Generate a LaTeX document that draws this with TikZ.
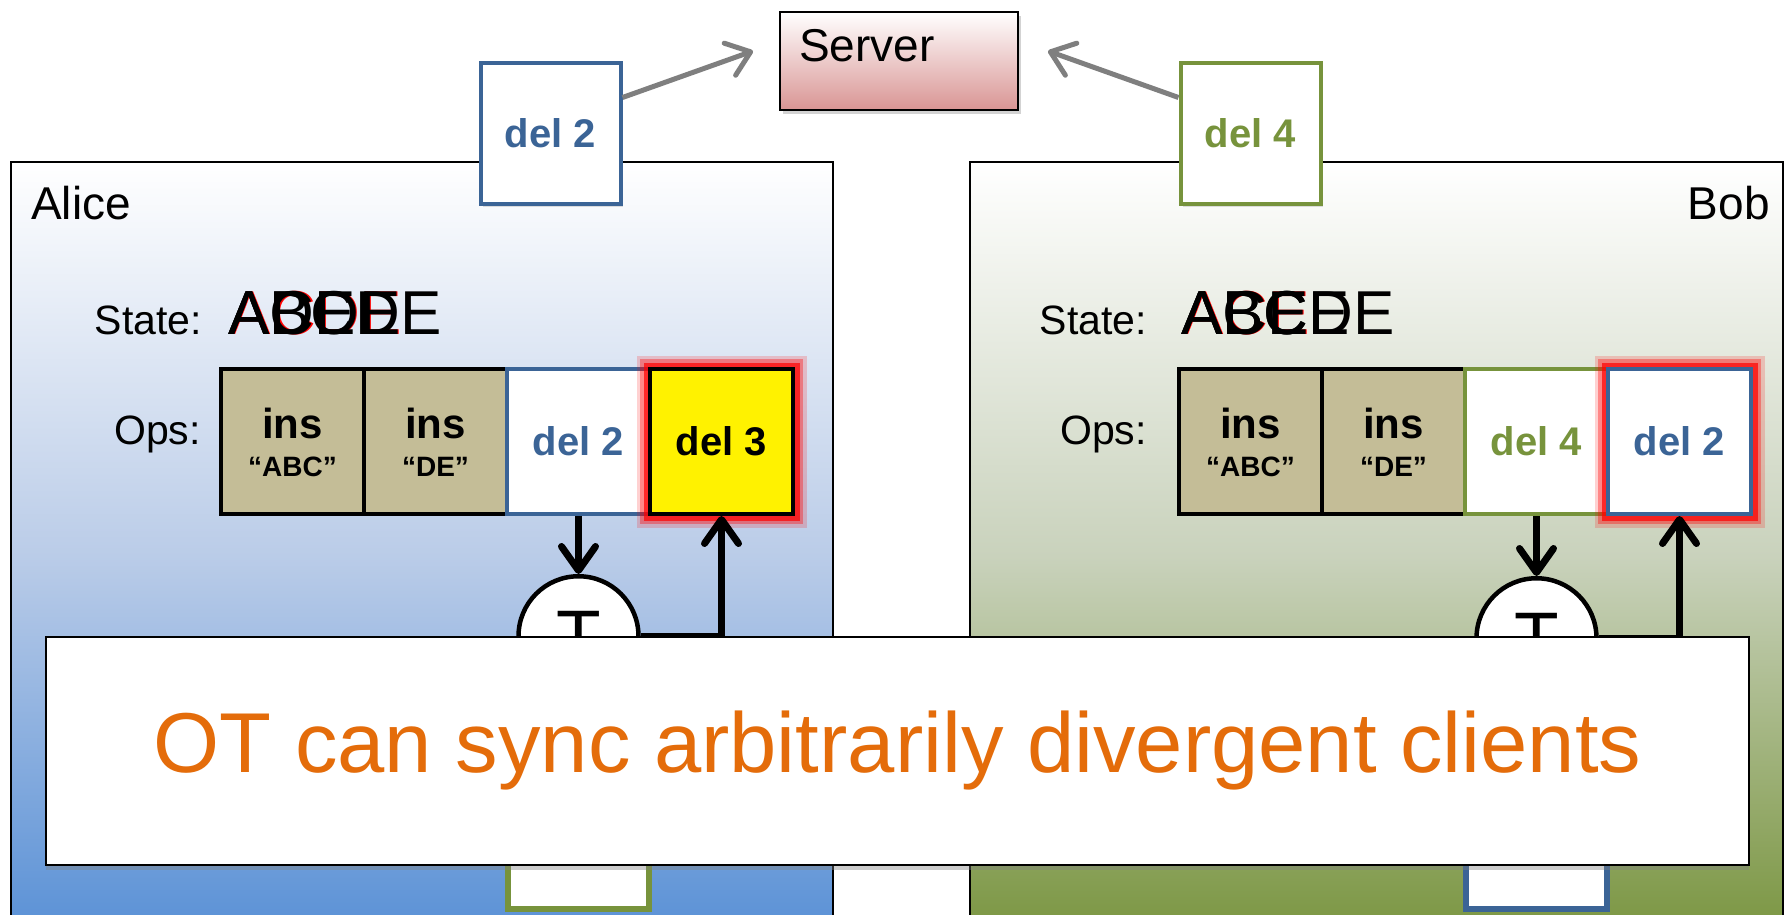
\documentclass[tikz,border=0pt]{standalone}
\usepackage{fontspec}
\setmainfont{Liberation Sans}
\setsansfont{Liberation Sans}
\usepackage{tikz}
\usetikzlibrary{arrows.meta, positioning, shadows}
\usepackage{xcolor}

\definecolor{delblue}{HTML}{3B6496}
\definecolor{delgreen}{HTML}{77933C}
\definecolor{instan}{HTML}{C4BD97}
\definecolor{alicebot}{HTML}{558ED5}
\definecolor{alicemid}{HTML}{BACCE8}
\definecolor{bobbot}{HTML}{77933C}
\definecolor{bobmid}{HTML}{C9D2BC}
\definecolor{servpink}{HTML}{D99594}
\definecolor{titleorange}{HTML}{E46C0A}
\definecolor{sendgray}{HTML}{7F7F7F}

\newcommand{\insop}[1]{\fontsize{42}{44}\selectfont\begin{tabular}{@{}c@{}}\rule{0pt}{46pt}ins\\[-6pt]\fontsize{28}{30}\selectfont “#1”\end{tabular}}

\begin{document}
\begin{tikzpicture}[x=1pt, y=-1pt,
panel/.style={draw=black, line width=2pt},
who/.style={font=\fontsize{46}{50}\selectfont, inner sep=0pt},
lbl/.style={font=\fontsize{41}{46}\selectfont, inner sep=0pt},
statetxt/.style={font=\fontsize{62}{70}\selectfont, inner sep=0pt, anchor=base west},
sendbox/.style={draw, line width=4pt, fill=white, minimum width=140pt, minimum height=140pt,
    font=\bfseries\fontsize{40}{44}\selectfont,
    drop shadow={opacity=.25, shadow xshift=2pt, shadow yshift=-3pt}},
serverbox/.style={draw, line width=2pt, top color=white, bottom color=servpink,
    minimum width=238pt, minimum height=98pt,
    drop shadow={opacity=.35, shadow xshift=3pt, shadow yshift=-4pt}},
sendarrow/.style={draw=sendgray, line width=5pt, -{Straight Barb[round, length=22pt, width=34pt]}},
opbox/.style={draw, line width=4pt, minimum width=143pt, minimum height=145pt, inner sep=0pt,
    fill=white, font=\bfseries\fontsize{40}{44}\selectfont},
insbox/.style={opbox, fill=instan},
glow/.style={
    preaction={draw=red, line width=27pt, opacity=.18, rounded corners=10pt},
    preaction={draw=red, line width=20pt, opacity=.35, rounded corners=7pt},
    preaction={draw=red, line width=13pt, opacity=.7, rounded corners=3pt}},
oparrow/.style={line width=7pt, -{Straight Barb[round, length=24pt, width=34pt]}},
tbox/.style={circle, draw, line width=4.5pt, fill=white, minimum size=120pt, inner sep=0pt,
    font=\fontsize{73}{80}\selectfont},
outbox/.style={draw, line width=6pt, fill=white, minimum width=141pt, minimum height=150pt},
banner/.style={draw, line width=1.5pt, fill=white, minimum width=1703pt, minimum height=228pt,
    text=titleorange, font=\fontsize{85}{96}\selectfont,
    drop shadow={opacity=.4, shadow xshift=0pt, shadow yshift=-5pt}}]

\useasboundingbox (0,0) rectangle (1790,915);

% the two clients
\draw[panel, top color=white, bottom color=alicebot, middle color=alicemid] (11,162) rectangle (833,950);
\draw[panel, top color=white, bottom color=bobbot, middle color=bobmid] (970,162) rectangle (1783,950);
\node[who, anchor=west] (alicename) at (31,203) {Alice};
\node[who, anchor=east] (bobname) at (1770,203) {Bob};

% server and the ops on the wire
\node[serverbox] (server) at (899,61) {};
\node[who, anchor=west] (servername) at (799,46) {Server};
\node[sendbox, draw=delblue, text=delblue] (asend) at (550.5,133.5) {del 2};
\node[sendbox, draw=delgreen, text=delgreen] (bsend) at (1250.5,133.5) {del 4};
\draw[sendarrow] ([yshift=36pt]asend.east) -- ([xshift=-26pt,yshift=10pt]server.west);
\draw[sendarrow] ([yshift=36pt]bsend.west) -- ([xshift=29pt,yshift=10pt]server.east);

% state lines
\node[lbl, anchor=base east] (astatelbl) at (202,334) {State:};
\node[statetxt, red] (astate0) at (229.5,334) {ACDE};
\node[statetxt] (astate1) at (228,334) {ABCDE};
\node[statetxt] (astate2) at (228,334) {ACDE};
\node[statetxt] (astate3) at (228,334) {ADE};
\node[lbl, anchor=base east] (bstatelbl) at (1147,334) {State:};
\node[statetxt, red] (bstate0) at (1182,334) {ACE};
\node[statetxt] (bstate1) at (1181,334) {ABCDE};
\node[statetxt] (bstate2) at (1181,334) {ABCE};
\node[statetxt] (bstate3) at (1181,334) {ACE};

% op logs
\node[lbl, anchor=east] (aopslbl) at (201,434) {Ops:};
\node[insbox] (aop1) at (292.5,441.5) {\insop{ABC}};
\node[insbox, right=-4pt of aop1] (aop2) {\insop{DE}};
\node[opbox, draw=delblue, text=delblue, right=-4pt of aop2] (aop3) {del 2};
\node[opbox, fill=yellow, glow, right=-4pt of aop3] (aop4) {del 3};

\node[lbl, anchor=east] (bopslbl) at (1147,434) {Ops:};
\node[insbox] (bop1) at (1250.5,441.5) {\insop{ABC}};
\node[insbox, right=-4pt of bop1] (bop2) {\insop{DE}};
\node[opbox, draw=delgreen, text=delgreen, right=-4pt of bop2] (bop3) {del 4};
\node[opbox, draw=delblue, text=delblue, glow, right=-4pt of bop3] (bop4) {del 2};

% transforms
\node[tbox, below=58pt of aop3] (atr) {T};
\draw[oparrow] (aop3.south) -- (atr.north);
\draw[oparrow] (atr.east) -| (aop4.south);
\node[tbox, below=60pt of bop3] (btr) {T};
\draw[oparrow] (bop3.south) -- (btr.north);
\draw[oparrow] (btr.east) -| (bop4.south);

\node[outbox, draw=delgreen, below=57pt of atr] (aout) {};
\node[outbox, draw=delblue, below=55pt of btr] (bout) {};

\node[banner] (banner) at (897.5,751) {OT can sync arbitrarily divergent clients};

\end{tikzpicture}
\end{document}
